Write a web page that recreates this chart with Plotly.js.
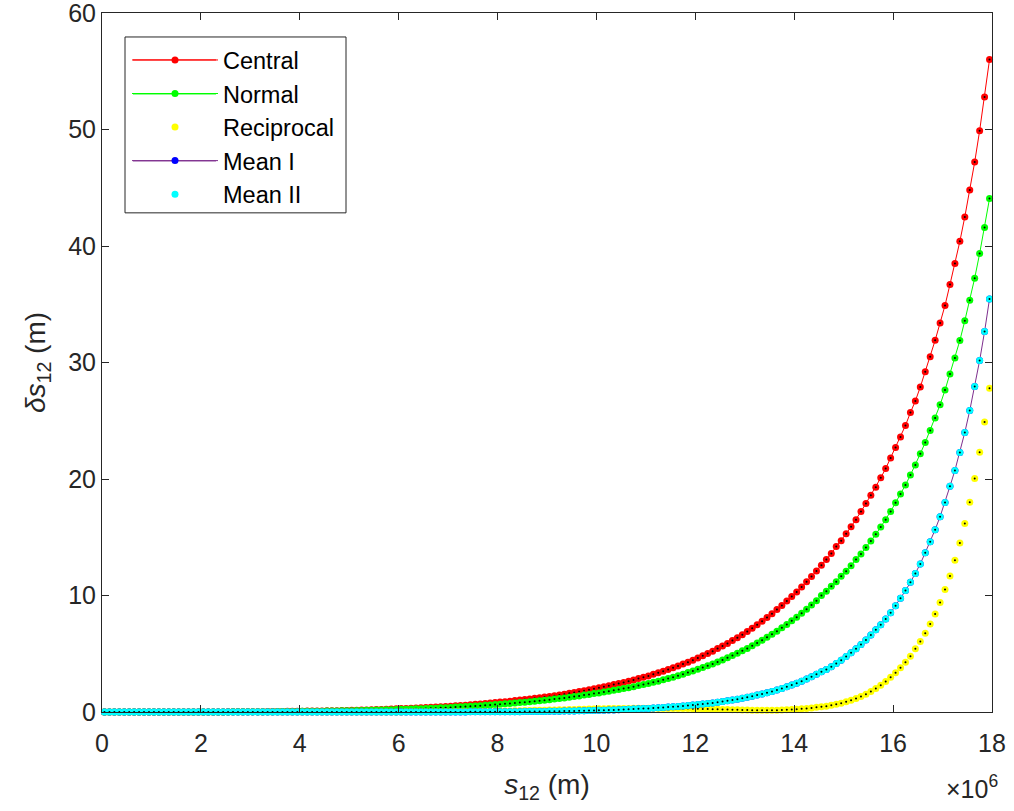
<!DOCTYPE html>
<html><head><meta charset="utf-8">
<script src="https://cdn.plot.ly/plotly-3.0.1.min.js"></script>
<style>html,body{margin:0;padding:0;background:#fff}#chart{width:1014px;height:811px}</style>
</head><body><div id="chart"></div>
<script>
// x values in units of 10^6 m
const s12 = [0.05,0.15,0.25,0.35,0.45,0.55,0.65,0.75,0.85,0.95,
1.05,1.15,1.25,1.35,1.45,1.55,1.65,1.75,1.85,1.95,
2.05,2.15,2.25,2.35,2.45,2.55,2.65,2.75,2.85,2.95,
3.05,3.15,3.25,3.35,3.45,3.55,3.65,3.75,3.85,3.95,
4.05,4.15,4.25,4.35,4.45,4.55,4.65,4.75,4.85,4.95,
5.05,5.15,5.25,5.35,5.45,5.55,5.65,5.75,5.85,5.95,
6.05,6.15,6.25,6.35,6.45,6.55,6.65,6.75,6.85,6.95,
7.05,7.15,7.25,7.35,7.45,7.55,7.65,7.75,7.85,7.95,
8.05,8.15,8.25,8.35,8.45,8.55,8.65,8.75,8.85,8.95,
9.05,9.15,9.25,9.35,9.45,9.55,9.65,9.75,9.85,9.95,
10.05,10.15,10.25,10.35,10.45,10.55,10.65,10.75,10.85,10.95,
11.05,11.15,11.25,11.35,11.45,11.55,11.65,11.75,11.85,11.95,
12.05,12.15,12.25,12.35,12.45,12.55,12.65,12.75,12.85,12.95,
13.05,13.15,13.25,13.35,13.45,13.55,13.65,13.75,13.85,13.95,
14.05,14.15,14.25,14.35,14.45,14.55,14.65,14.75,14.85,14.95,
15.05,15.15,15.25,15.35,15.45,15.55,15.65,15.75,15.85,15.95,
16.05,16.15,16.25,16.35,16.45,16.55,16.65,16.75,16.85,16.95,
17.05,17.15,17.25,17.35,17.45,17.55,17.65,17.75,17.85,17.95];

const central = [0,0,0,0,0,0,0.0001,0.0001,0.0002,0.0003,
0.0004,0.0005,0.0007,0.0010,0.0013,0.0017,0.0022,0.0027,0.0034,0.004,
0.005,0.006,0.007,0.009,0.010,0.012,0.014,0.016,0.019,0.021,
0.024,0.027,0.031,0.035,0.039,0.044,0.049,0.055,0.060,0.067,
0.071,0.077,0.082,0.088,0.095,0.102,0.109,0.117,0.125,0.135,
0.145,0.155,0.165,0.18,0.19,0.205,0.22,0.235,0.25,0.27,
0.29,0.30,0.32,0.34,0.36,0.38,0.40,0.42,0.45,0.47,
0.50,0.53,0.56,0.59,0.62,0.66,0.69,0.73,0.77,0.82,
0.85,0.89,0.93,0.98,1.02,1.07,1.12,1.17,1.22,1.28,
1.34,1.40,1.46,1.53,1.60,1.67,1.75,1.83,1.91,2.00,
2.08,2.17,2.25,2.35,2.44,2.54,2.65,2.75,2.87,2.98,
3.10,3.23,3.36,3.50,3.64,3.79,3.95,4.11,4.28,4.45,
4.63,4.82,5.02,5.22,5.44,5.66,5.89,6.13,6.38,6.64,
6.91,7.19,7.49,7.79,8.11,8.44,8.79,9.15,9.52,9.91,
10.31,10.73,11.17,11.63,12.1,12.6,13.1,13.6,14.2,14.7,
15.3,15.9,16.5,17.2,17.9,18.6,19.3,20.1,20.9,21.8,
22.7,23.6,24.6,25.7,26.7,27.9,29.2,30.5,31.9,33.4,
34.9,36.7,38.5,40.4,42.5,44.8,47.2,49.9,52.8,56.0];

const normal = [0,0,0,0,0,0,0.0001,0.0001,0.0002,0.0002,
0.0003,0.0004,0.0006,0.0008,0.0010,0.0013,0.0017,0.0021,0.0027,0.003,
0.004,0.005,0.006,0.007,0.008,0.009,0.011,0.013,0.015,0.017,
0.019,0.021,0.024,0.028,0.031,0.035,0.039,0.043,0.047,0.053,
0.056,0.061,0.065,0.070,0.075,0.081,0.086,0.092,0.099,0.107,
0.115,0.122,0.130,0.142,0.150,0.162,0.174,0.186,0.198,0.213,
0.229,0.237,0.253,0.269,0.284,0.300,0.316,0.332,0.356,0.371,
0.395,0.419,0.442,0.466,0.490,0.521,0.545,0.577,0.608,0.648,
0.672,0.703,0.735,0.774,0.806,0.845,0.885,0.924,0.964,1.01,
1.06,1.11,1.15,1.21,1.26,1.32,1.38,1.45,1.51,1.58,
1.64,1.71,1.78,1.86,1.93,2.01,2.09,2.17,2.27,2.35,
2.45,2.55,2.65,2.77,2.88,2.99,3.12,3.25,3.38,3.52,
3.66,3.81,3.97,4.12,4.30,4.47,4.65,4.84,5.04,5.25,
5.46,5.68,5.92,6.15,6.41,6.67,6.94,7.23,7.52,7.83,
8.14,8.48,8.82,9.19,9.56,9.99,10.36,10.79,11.19,11.65,
12.08,12.56,13.08,13.57,14.11,14.68,15.25,15.88,16.51,17.22,
17.97,18.71,19.49,20.34,21.20,22.17,23.14,24.17,25.23,26.37,
27.63,29.01,30.38,31.89,33.58,35.35,37.24,39.35,41.58,44.07];

const reciprocal = [0,0,0,0,0,0,0,0,0,0,
0,0,0,0,0,0,0,0,0,0,
0,0,0,0,0,0,0,0,0,0,
0.0001,0.0001,0.0002,0.0002,0.0003,0.0003,0.0004,0.0005,0.0006,0.0007,
0.0008,0.0009,0.0011,0.0012,0.0014,0.0016,0.0018,0.0021,0.0024,0.0027,
0.003,0.0034,0.0038,0.0043,0.0048,0.0054,0.006,0.007,0.008,0.009,
0.010,0.011,0.013,0.014,0.016,0.018,0.020,0.022,0.025,0.028,
0.031,0.034,0.038,0.042,0.046,0.051,0.056,0.061,0.067,0.073,
0.080,0.087,0.094,0.10,0.11,0.12,0.13,0.14,0.15,0.16,
0.17,0.18,0.19,0.20,0.21,0.22,0.23,0.24,0.25,0.26,
0.27,0.28,0.29,0.30,0.30,0.31,0.31,0.32,0.32,0.32,
0.32,0.32,0.31,0.31,0.31,0.30,0.30,0.29,0.29,0.28,
0.27,0.26,0.25,0.24,0.23,0.22,0.21,0.20,0.19,0.18,
0.17,0.16,0.15,0.15,0.15,0.15,0.16,0.17,0.19,0.21,
0.24,0.27,0.31,0.35,0.40,0.45,0.50,0.58,0.67,0.75,
0.87,1.01,1.16,1.33,1.53,1.76,2.02,2.30,2.62,2.98,
3.36,3.79,4.27,4.79,5.42,6.05,6.76,7.56,8.42,9.39,
10.51,11.68,13.02,14.51,16.17,18.0,20.05,22.3,24.9,27.8];

const meanI = [0,0,0,0,0,0,0,0,0,0,
0,0,0,0,0,0,0,0,0,0,
0,0,0,0,0,0,0,0,0.0001,0.0001,
0.0001,0.0001,0.0001,0.0001,0.0001,0.0001,0.0002,0.0002,0.0002,0.0002,
0.0003,0.0003,0.0003,0.0004,0.0004,0.0005,0.0005,0.0006,0.0006,0.0007,
0.0008,0.0009,0.0010,0.0011,0.0012,0.0013,0.0015,0.0016,0.0018,0.0021,
0.0024,0.0027,0.003,0.0033,0.0037,0.0041,0.0046,0.005,0.006,0.0065,
0.007,0.008,0.009,0.010,0.011,0.012,0.014,0.015,0.017,0.019,
0.021,0.023,0.026,0.029,0.032,0.035,0.039,0.043,0.047,0.052,
0.057,0.063,0.069,0.076,0.083,0.09,0.10,0.11,0.12,0.13,
0.14,0.155,0.17,0.18,0.20,0.21,0.23,0.25,0.27,0.29,
0.31,0.34,0.36,0.39,0.42,0.45,0.48,0.52,0.56,0.60,
0.64,0.68,0.73,0.78,0.84,0.90,0.96,1.03,1.10,1.18,
1.27,1.35,1.45,1.55,1.65,1.77,1.89,2.02,2.16,2.31,
2.47,2.64,2.83,3.02,3.23,3.45,3.64,3.88,4.16,4.44,
4.76,5.08,5.42,5.79,6.19,6.62,7.05,7.50,7.99,8.51,
9.13,9.76,10.42,11.13,11.88,12.71,13.68,14.62,15.65,16.77,
17.99,19.37,20.74,22.28,24.0,25.88,27.94,30.17,32.66,35.46];
const meanII = meanI.slice();

const seriesNames = ['Central','Normal','Reciprocal','Mean I','Mean II'];
const xTicks = [0,2,4,6,8,10,12,14,16,18];
const yTicks = [0,10,20,30,40,50,60];

const ink = '#262626';
const font = '"Liberation Sans", Arial, Helvetica, sans-serif';

function main(name, y, lineColor, markColor, withLine){
  return {x:s12, y:y, name:name, type:'scatter', mode: withLine ? 'lines+markers' : 'markers',
    line:{color:lineColor, width:1}, marker:{color:markColor, size:7, line:{width:0}},
    cliponaxis:false, hoverinfo:'x+y+name'};
}
function dots(y){
  return {x:s12, y:y, type:'scatter', mode:'markers', showlegend:false,
    marker:{color:'#000000', size:2, line:{width:0}}, cliponaxis:false, hoverinfo:'skip'};
}

const data = [
  main(seriesNames[0], central, '#FF0000', '#FF0000', true), dots(central),
  main(seriesNames[1], normal, '#00FF00', '#00FF00', true), dots(normal),
  main(seriesNames[2], reciprocal, '#FFFF00', '#FFFF00', false), dots(reciprocal),
  main(seriesNames[3], meanI, '#7E2F8E', '#0000FF', true), dots(meanI),
  main(seriesNames[4], meanII, '#00FFFF', '#00FFFF', false), dots(meanII)
];

// plot area in pixels: x 102..992, y 13..712.5
const PX0 = 102, PX1 = 992, PY0 = 13, PY1 = 712.5;
function px(v){ return (v - PX0) / (PX1 - PX0); }
function py(v){ return (PY1 - v) / (PY1 - PY0); }

const shapes = [
  {type:'rect', xref:'paper', yref:'paper', x0:px(125), x1:px(346), y0:py(213), y1:py(37),
   line:{color:ink, width:1}, fillcolor:'rgba(0,0,0,0)', layer:'above'},
  {type:'line', xref:'paper', yref:'paper', x0:px(133), x1:px(216), y0:py(60), y1:py(60), line:{color:'#FF0000', width:1}},
  {type:'line', xref:'paper', yref:'paper', x0:px(133), x1:px(216), y0:py(94), y1:py(94), line:{color:'#00FF00', width:1}},
  {type:'line', xref:'paper', yref:'paper', x0:px(133), x1:px(216), y0:py(161), y1:py(161), line:{color:'#7E2F8E', width:1}}
];

const layout = {
  width:1014, height:811,
  margin:{l:PX0, r:1014-PX1, t:PY0, b:811-PY1, pad:0},
  paper_bgcolor:'#ffffff', plot_bgcolor:'#ffffff',
  font:{family:font, color:ink, size:25},
  showlegend:true,
  xaxis:{range:[0,18], tickmode:'array', tickvals:xTicks, ticktext:xTicks.map(String),
    ticks:'inside', ticklen:7, tickwidth:1, tickcolor:ink, showline:true, linecolor:ink, linewidth:1,
    mirror:'ticks', showgrid:false, zeroline:false, tickfont:{size:25, color:ink},
    ticklabelstandoff:9, ticklabeloverflow:'allow',
    title:{text:'<i>s</i><sub>12</sub> (m)', font:{size:28, color:ink}, standoff:18}},
  yaxis:{range:[0,60], tickmode:'array', tickvals:yTicks, ticktext:yTicks.map(String),
    ticks:'inside', ticklen:7, tickwidth:1, tickcolor:ink, showline:true, linecolor:ink, linewidth:1,
    mirror:'ticks', showgrid:false, zeroline:false, tickfont:{size:25, color:ink},
    ticklabeloverflow:'allow',
    title:{text:'<i>δs</i><sub>12</sub> (m)', font:{size:28, color:ink}, standoff:14}},
  legend:{x:px(127), y:py(38.2), xanchor:'left', yanchor:'top', bgcolor:'rgba(0,0,0,0)',
    borderwidth:0, font:{size:23.5, color:'#000000', family:font}, itemwidth:86, tracegroupgap:0},
  shapes:shapes,
  annotations:[{xref:'paper', yref:'paper', x:px(1000), y:py(788), xanchor:'right', yanchor:'middle',
    text:'×10<sup>6</sup>', showarrow:false, font:{size:25, color:ink, family:font}}]
};

Plotly.newPlot('chart', data, layout, {displayModeBar:false, staticPlot:true});
</script></body></html>
